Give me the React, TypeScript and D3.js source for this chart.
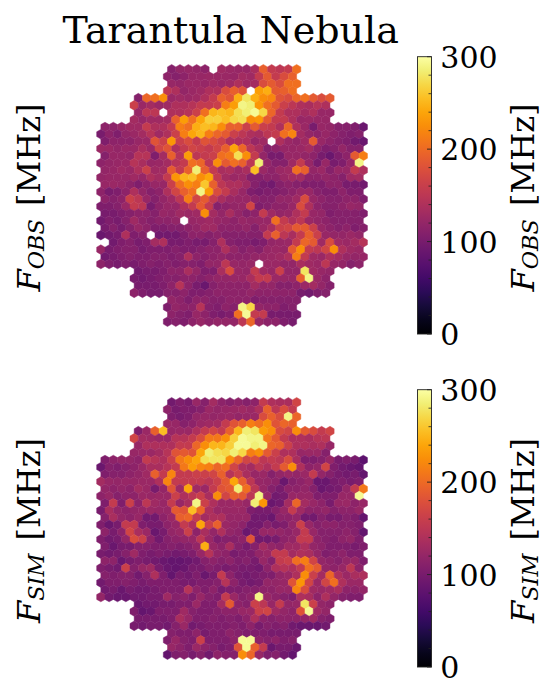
import React from "react";
import * as d3 from "d3";

const N = null;
const title = "Tarantula Nebula";
const cbarMajor = [0, 100, 200, 300];
const cbarMinor = [20, 40, 60, 80, 120, 140, 160, 180, 220, 240, 260, 280];

const obsValues: (number | null)[][] = [
[110,120,122,120,115,N,128,125,122,122,136,193,156,150,156,205],
[115,110,115,122,122,125,125,125,122,132,128,156,188,156,175,193],
[122,120,125,125,122,128,125,128,140,128,132,175,188,175,205,205],
[150,140,120,125,128,140,140,175,193,182,N,235,245,188,193,205],
[110,198,205,225,125,128,125,128,140,156,193,182,245,280,245,225,220,182,175,198,205,188,175,188],
[162,125,132,125,128,140,140,146,156,156,162,215,235,290,285,230,205,188,162,150,140,136,146,140],
[122,150,150,N,140,140,146,162,205,250,255,250,275,285,295,270,198,156,140,140,132,140,122,122],
[132,122,128,128,132,193,235,205,240,265,265,255,270,275,225,230,188,156,156,140,122,125,122,122],
[115,115,122,128,128,156,140,140,156,215,205,245,255,250,225,193,193,162,188,162,156,140,198,140,125,100,122,120,110,110,105,90],
[100,115,105,120,125,132,146,128,140,162,215,240,250,215,198,188,162,150,140,136,150,156,205,220,132,120,115,122,115,110,105,110],
[105,115,115,115,122,125,182,162,230,162,175,156,182,175,162,140,140,140,122,128,N,140,125,120,128,188,122,115,110,105,95,90],
[125,125,120,125,125,136,125,168,182,140,156,168,162,156,168,193,240,198,150,136,110,115,122,122,125,132,115,105,110,120,110,110],
[110,122,122,120,146,146,105,132,193,146,235,150,156,162,205,210,275,225,156,120,100,100,122,122,120,115,100,90,105,115,188,215],
[115,120,122,125,146,136,122,125,132,146,156,205,198,150,225,188,205,193,150,285,120,110,110,128,156,122,100,122,100,105,122,290],
[120,122,128,125,140,162,128,132,188,156,193,285,193,156,136,140,128,136,255,125,115,125,128,205,193,120,125,110,122,122,156,140],
[120,122,122,122,128,122,140,132,156,230,250,255,225,240,156,132,125,128,110,110,115,115,125,132,132,115,115,120,115,110,128,132],
[122,125,122,115,105,115,122,122,162,205,225,215,260,193,150,140,140,128,110,100,95,110,115,110,105,105,105,115,115,100,100,95],
[115,100,105,115,140,120,110,115,140,168,193,205,290,235,175,156,136,122,105,100,105,105,110,115,122,122,110,105,105,115,105,105],
[115,110,115,162,150,122,110,120,128,150,215,168,188,156,136,125,122,122,115,110,110,120,120,128,175,122,115,110,110,115,115,105],
[105,105,110,125,156,150,100,115,122,122,140,156,188,156,110,115,120,122,168,105,110,115,115,122,175,140,115,110,110,115,122,120],
[100,100,105,110,115,115,110,122,120,128,125,128,225,132,120,136,120,110,115,156,128,120,122,140,156,122,120,105,110,110,110,105],
[95,105,100,110,128,115,110,115,115,120,N,122,125,128,122,120,115,122,120,122,122,205,156,140,150,125,120,115,110,110,110,110],
[100,110,100,110,122,115,105,105,110,110,115,120,128,128,115,115,115,120,110,125,136,162,168,188,188,162,122,115,110,115,105,110],
[90,95,100,140,105,110,N,95,95,95,105,115,115,110,115,110,110,110,110,110,156,193,150,136,156,193,162,122,120,120,125,120],
[N,95,105,110,100,105,132,140,100,100,105,100,100,110,140,110,105,105,100,105,120,122,125,156,198,188,128,175,128,125,132,146],
[122,100,105,110,110,100,105,105,105,110,105,105,110,115,115,140,120,110,115,110,122,125,122,188,225,156,150,168,225,140,128,125],
[95,100,105,110,105,105,110,110,105,110,140,115,110,115,120,115,115,115,120,122,125,128,140,215,156,128,125,140,132,122,120,122],
[115,105,100,105,100,105,110,105,110,105,110,110,105,120,120,150,122,120,122,N,125,125,120,120,136,128,125,150,122,120,110,115],
[95,100,100,105,115,115,136,120,105,105,136,175,122,120,156,128,122,162,120,120,280,128,122,120],
[100,95,100,105,110,110,115,115,110,115,120,120,122,122,136,156,156,125,122,122,193,290,125,115],
[100,100,100,105,115,146,115,100,90,110,115,115,115,115,132,120,120,110,110,115,125,132,120,110],
[115,105,100,100,110,110,115,105,105,110,115,115,115,115,120,115,115,115,115,115,100,95,105,110],
[120,115,105,115,115,110,110,115,115,115,105,110,110,110,110,110],
[105,120,115,115,146,110,105,115,110,290,270,120,115,115,105,110],
[115,110,105,122,115,105,100,105,205,295,156,156,100,100,100,100],
[105,110,105,115,122,115,120,120,120,150,198,122,115,115,105,100],
];

const simValues: (number | null)[][] = [
[95,105,100,122,110,132,115,110,115,110,115,156,140,136,136,168],
[115,100,105,105,110,125,120,122,125,128,125,140,193,150,175,156],
[105,100,105,120,122,120,122,125,120,122,125,175,193,175,290,198],
[125,122,110,115,125,128,132,156,182,193,215,205,225,182,198,193],
[105,125,193,255,122,125,125,140,156,168,156,193,250,285,280,235,225,175,168,225,188,175,156,168],
[168,132,128,125,125,146,146,156,175,210,210,225,265,295,290,290,210,188,156,140,140,136,146,150],
[122,140,140,140,140,156,156,198,225,250,250,265,295,295,285,290,198,193,162,140,140,136,140,122],
[122,125,125,132,146,182,188,182,240,285,275,270,285,270,215,225,188,162,140,140,122,125,125,110],
[105,115,120,120,115,156,146,140,162,210,225,240,275,280,280,225,198,168,175,150,156,150,175,136,105,105,110,122,100,105,100,80],
[90,110,105,110,115,125,136,136,146,156,210,235,220,215,198,205,168,140,132,150,140,156,188,225,140,115,120,168,105,95,90,85],
[105,110,110,115,120,128,193,156,220,156,156,162,162,168,193,146,162,136,122,125,110,120,125,120,125,156,120,110,100,95,100,85],
[132,122,120,122,122,125,125,140,220,156,156,156,156,150,162,188,240,193,150,122,120,115,90,110,115,122,90,90,100,105,100,105],
[120,115,120,115,132,125,100,120,182,128,240,128,125,156,182,188,285,205,150,122,110,100,115,115,120,110,90,95,100,120,156,210],
[115,122,110,115,115,125,122,125,125,162,140,150,162,136,225,168,193,188,150,290,122,95,100,122,122,122,105,105,105,122,122,295],
[105,156,105,162,115,150,128,122,156,122,136,290,162,140,125,125,128,122,285,230,90,95,132,198,132,122,115,100,122,125,115,122],
[100,136,120,115,120,122,125,122,122,188,182,255,198,140,125,125,125,125,105,100,100,110,122,156,128,115,115,120,110,115,115,122],
[110,136,120,115,122,95,95,115,125,193,198,156,132,140,140,122,122,122,95,95,90,115,115,120,95,95,110,100,100,110,105,85],
[105,90,100,156,156,105,100,100,115,122,156,140,240,162,193,125,120,115,95,95,110,100,105,120,162,122,110,115,115,110,110,105],
[115,100,115,168,136,125,90,100,120,125,162,115,136,120,140,120,115,90,100,122,122,120,115,122,156,122,110,110,110,115,110,85],
[105,95,100,120,175,162,115,95,110,115,120,122,150,125,105,110,110,115,182,95,95,100,115,120,156,156,115,110,105,115,120,105],
[105,90,100,100,110,110,105,105,110,105,110,120,245,122,115,136,110,100,110,132,120,115,128,128,140,120,115,105,105,105,100,105],
[100,95,100,110,128,105,100,105,100,95,100,105,122,146,120,115,100,105,105,120,125,156,156,132,140,136,120,105,110,115,105,105],
[115,115,90,100,105,100,95,90,85,85,90,95,110,115,110,115,105,110,100,122,110,156,162,205,215,168,120,115,110,120,122,105],
[105,100,95,162,110,122,128,100,90,85,90,100,100,110,105,100,105,100,100,95,115,140,146,140,156,205,188,120,115,122,150,115],
[110,105,110,110,95,110,140,105,85,100,95,105,90,100,156,115,100,95,100,105,105,120,125,140,225,162,132,198,140,125,136,140],
[95,105,105,110,105,100,105,105,105,105,100,100,105,105,110,146,115,100,95,100,120,120,122,182,230,168,125,168,205,140,125,125],
[95,100,90,100,95,95,100,105,105,105,146,115,105,115,100,105,105,110,110,115,115,122,122,220,175,128,125,128,136,115,115,120],
[120,95,90,90,95,95,100,100,128,110,115,105,122,110,105,156,125,110,115,290,122,115,110,105,140,136,115,140,120,110,105,105],
[90,95,95,100,100,105,105,125,105,105,132,188,115,110,162,150,122,156,120,122,280,162,120,115],
[105,85,90,105,105,105,128,110,105,105,110,115,115,122,125,162,168,128,120,115,182,295,128,120],
[100,100,100,100,105,136,122,105,105,110,105,110,105,115,140,115,110,115,115,115,120,128,110,105],
[100,95,100,100,95,110,125,95,100,105,105,105,110,105,115,100,110,105,110,95,90,90,90,95],
[110,105,105,115,100,105,105,115,110,105,105,105,100,100,100,100],
[105,122,110,105,162,105,105,105,115,295,295,115,110,115,105,110],
[122,115,105,125,115,110,100,105,182,295,193,156,90,100,100,90],
[85,105,110,100,110,95,115,110,110,225,198,122,105,110,95,85],
];

const panels = [
  { values: obsValues, top: 69.3, sub: "OBS", barTop: 56.7, labelY: 197.5 },
  { values: simValues, top: 402.3, sub: "SIM", barTop: 389.7, labelY: 530.5 },
];

const color = d3.scaleSequential(d3.interpolateInferno).domain([0, 300]);
const xCol = d3.scaleLinear().domain([0, 31]).range([105, 363.3]);
const R = 4.81;
const hexPath = (cx: number, cy: number) => {
  const w = (Math.sqrt(3) / 2) * R;
  const p = d3.path();
  p.moveTo(cx, cy - R);
  p.lineTo(cx + w, cy - R / 2);
  p.lineTo(cx + w, cy + R / 2);
  p.lineTo(cx, cy + R);
  p.lineTo(cx - w, cy + R / 2);
  p.lineTo(cx - w, cy - R / 2);
  p.closePath();
  return p.toString();
};

const FONT = "'DejaVu Serif', serif";

function Label({ x, y, sub }: { x: number; y: number; sub: string }) {
  return (
    <text
      transform={`translate(${x},${y}) rotate(-90)`}
      textAnchor="middle"
      fontFamily={FONT}
      fontSize={32}
      fill="#000"
    >
      <tspan fontStyle="italic">F</tspan>
      <tspan fontStyle="italic" fontSize={22.4} dy={4.8}>{sub}</tspan>
      <tspan dy={-4.8} dx={3}> [MHz]</tspan>
    </text>
  );
}

function Panel({ values, top, sub, barTop, labelY, idx }: any) {
  const yRow = d3.scaleLinear().domain([0, 35]).range([top, top + 252.4]);
  const barH = 277.3;
  const yBar = d3.scaleLinear().domain([0, 300]).range([barTop + barH, barTop]);
  const gid = `inferno-${idx}`;
  const stops = d3.range(0, 301, 15);
  return (
    <g>
      {values.map((row: (number | null)[], r: number) => {
        const start = (32 - row.length) / 2;
        return row.map((v, i) => {
          if (v === null) return null;
          const cx = xCol(start + i) - (r % 2 ? xCol(0.5) - xCol(0) : 0);
          const c = color(v);
          return <path key={`${r}-${i}`} d={hexPath(cx, yRow(r))} fill={c} stroke={c} strokeWidth={0.45} />;
        });
      })}
      <defs>
        <linearGradient id={gid} x1="0" y1="1" x2="0" y2="0">
          {stops.map((s) => (
            <stop key={s} offset={s / 300} stopColor={color(s)} />
          ))}
        </linearGradient>
      </defs>
      <rect x={417.5} y={barTop} width={14} height={barH} fill={`url(#${gid})`} stroke="#222" strokeWidth={0.9} />
      {cbarMajor.map((t) => (
        <g key={t}>
          <line x1={431.5 - 4.5} x2={431.5} y1={yBar(t)} y2={yBar(t)} stroke="#222" strokeWidth={0.9} />
          <text x={440.3} y={yBar(t) + 11.3} fontFamily={FONT} fontSize={30} fill="#000">{t}</text>
        </g>
      ))}
      {cbarMinor.map((t) => (
        <line key={t} x1={431.5 - 3} x2={431.5} y1={yBar(t)} y2={yBar(t)} stroke="#222" strokeWidth={0.8} />
      ))}
      <Label x={39.5} y={labelY} sub={sub} />
      <Label x={533.5} y={labelY} sub={sub} />
    </g>
  );
}

export default function App() {
  return (
    <svg width={553} height={678} style={{ position: "absolute", left: 0, top: 0, background: "#fff" }}>
      <text x={230.7} y={42.7} textAnchor="middle" fontFamily={FONT} fontSize={38} fill="#000">{title}</text>
      {panels.map((p, i) => (
        <Panel key={i} {...p} idx={i} />
      ))}
    </svg>
  );
}
